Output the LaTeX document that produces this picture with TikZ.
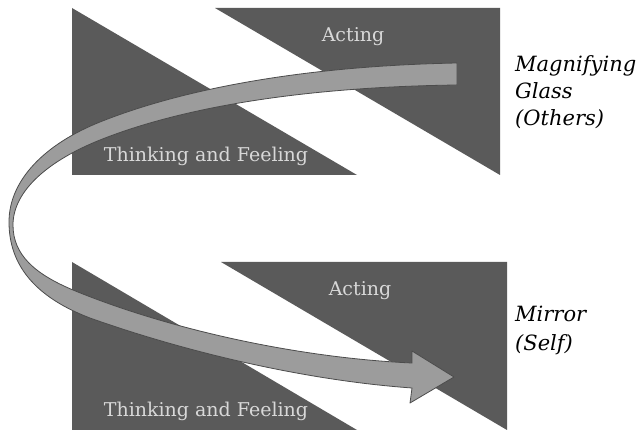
\documentclass[tikz,border=0pt]{standalone}
\usepackage{fontspec}
\setmainfont{DejaVu Serif}
\usetikzlibrary{positioning}
\definecolor{blockgray}{HTML}{5A5A5A}
\definecolor{ribbongray}{HTML}{9C9C9C}
\definecolor{labelgray}{HTML}{D8D8D8}

\begin{document}
\begin{tikzpicture}[x=1pt,y=-1pt,
    block/.style={fill=blockgray},
    blocklabel/.style={text=labelgray,font=\fontsize{19}{22}\selectfont,anchor=base,inner sep=0pt},
    sidelabel/.style={font=\fontsize{21}{27}\selectfont\itshape,anchor=base west,inner sep=0pt}]
    \useasboundingbox (0,0) rectangle (640,430);

    % upper pair of triangles
    \fill[block] (72,8) -- (72,175) -- (357,175) -- cycle;
    \fill[block] (215,8) -- (500,8) -- (500,175) -- cycle;

    % lower pair of triangles
    \fill[block] (72,262) -- (72,430) -- (357,430) -- cycle;
    \fill[block] (221,262) -- (507,262) -- (507,430) -- cycle;

    % the ribbon arrow
    \filldraw[fill=ribbongray,draw=black!70,line width=0.8pt,line join=round]
      (457,63) .. controls (300,66) and (180,90) .. (100,122)
      .. controls (45,144) and (9,180) .. (9,222)
      .. controls (9,265) and (35,297) .. (90,318)
      .. controls (180,350) and (300,380) .. (412,388)
      -- (410,403) -- (454,377) -- (412,351) -- (412,363)
      .. controls (300,358) and (170,330) .. (73,290)
      .. controls (35,274) and (13,255) .. (13,225)
      .. controls (13,190) and (50,160) .. (100,140)
      .. controls (180,108) and (300,87) .. (457,85) -- cycle;

    \node[blocklabel] (act1) at (353,42) {Acting};
    \node[blocklabel] (think1) at (206,162) {Thinking and Feeling};
    \node[blocklabel] (act2) at (360,296) {Acting};
    \node[blocklabel] (think2) at (206,416) {Thinking and Feeling};

    \node[sidelabel] (mag) at (515,72) {Magnifying};
    \node[sidelabel] (glass) at (515,99) {Glass};
    \node[sidelabel] (others) at (515,126) {(Others)};
    \node[sidelabel] (mirror) at (515,322) {Mirror};
    \node[sidelabel] (self) at (515,350) {(Self)};
\end{tikzpicture}
\end{document}
